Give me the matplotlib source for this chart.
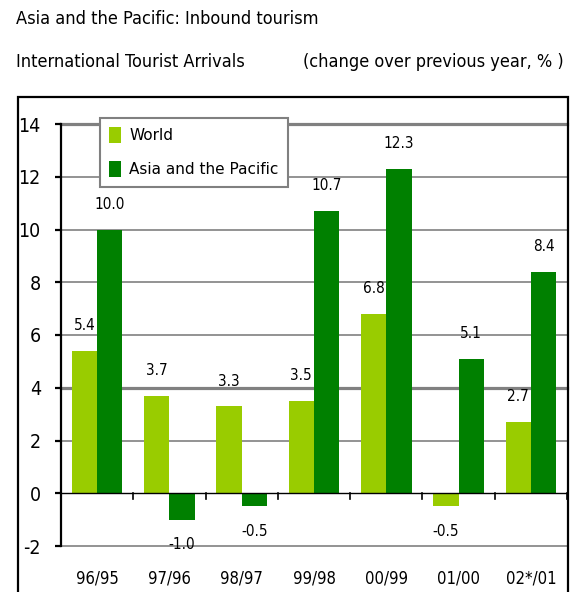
import numpy as np
import matplotlib.pyplot as plt
from matplotlib.patches import Rectangle, Patch

# Data
periods = ['96/95', '97/96', '98/97', '99/98', '00/99', '01/00', '02*/01']
world = [5.4, 3.7, 3.3, 3.5, 6.8, -0.5, 2.7]
asia = [10.0, -1.0, -0.5, 10.7, 12.3, 5.1, 8.4]
world_labels = ['5.4', '3.7', '3.3', '3.5', '6.8', '-0.5', '2.7']
asia_labels = ['10.0', '-1.0', '-0.5', '10.7', '12.3', '5.1', '8.4']
yticks = [-2, 0, 2, 4, 6, 8, 10, 12, 14]

light = '#99cc00'
dark = '#008000'
grid_col = '#808080'
narrow = dict(family='DejaVu Sans', stretch='condensed')

W, H = 582, 592
fig = plt.figure(figsize=(W / 100, H / 100), dpi=100)

# outer frame
fig.patches.append(Rectangle((18 / W, -0.05), 550 / W, 1 - 97 / H + 0.05,
                             transform=fig.transFigure, fill=False,
                             edgecolor='black', lw=1.6))

fig.text(16 / W, 1 - 19 / H, 'Asia and the Pacific: Inbound tourism',
         fontsize=13, va='center', ha='left', **narrow)
fig.text(16 / W, 1 - 62 / H, 'International Tourist Arrivals',
         fontsize=13, va='center', ha='left', **narrow)
fig.text(303 / W, 1 - 62 / H, '(change over previous year, % )',
         fontsize=13, va='center', ha='left', **narrow)

ax = fig.add_axes([61 / W, 1 - 546 / H, 506 / W, 422 / H])
ax.set_xlim(-0.5, len(periods) - 0.5)
ax.set_ylim(-2, 14)

# gridlines
for y in yticks:
    if y == 0:
        continue
    lw = 2.3 if y in (4, 14) else 1.2
    ax.axhline(y, color=grid_col, lw=lw, zorder=0, clip_on=False)
ax.axhline(0, color='black', lw=1.0, zorder=3)

x = np.arange(len(periods))
bw = 0.35
ax.bar(x - bw / 2, world, bw, color=light, zorder=2)
ax.bar(x + bw / 2, asia, bw, color=dark, zorder=2)

# boundary ticks on zero line
for b in np.arange(len(periods)) + 0.5:
    ax.plot([b, b], [0, -0.2], color='black', lw=1.2, zorder=3)

for xs, vals, labs in ((x - bw / 2, world, world_labels),
                       (x + bw / 2, asia, asia_labels)):
    for xi, v, s in zip(xs, vals, labs):
        yy = v + 0.95 if v >= 0 else v - 0.95
        ax.text(xi, yy, s, ha='center', va='center', fontsize=11, **narrow)

ax.set_yticks(yticks)
ax.set_yticklabels([str(t) for t in yticks], fontsize=14, **narrow)
ax.set_xticks(x)
ax.set_xticklabels(periods, fontsize=12, **narrow)
ax.tick_params(axis='x', length=0, pad=17)
ax.tick_params(axis='y', length=4.5, width=1.6, color='black', pad=10)

for s in ('top', 'right', 'bottom'):
    ax.spines[s].set_visible(False)
ax.spines['left'].set_linewidth(1.6)

handles = [Patch(facecolor=light, label='World'),
           Patch(facecolor=dark, label='Asia and the Pacific')]
leg = ax.legend(handles=handles, loc='upper left',
                bbox_to_anchor=((100 - 61) / 506, (546 - 118) / 422),
                frameon=True, fancybox=False, edgecolor=grid_col,
                framealpha=1, fontsize=11, handlelength=0.8,
                handleheight=1.2, labelspacing=1.2, borderpad=0.6,
                handletextpad=0.5, borderaxespad=0)
leg.get_frame().set_linewidth(1.5)
leg.set_zorder(5)

fig.savefig('out.png', dpi=100)
